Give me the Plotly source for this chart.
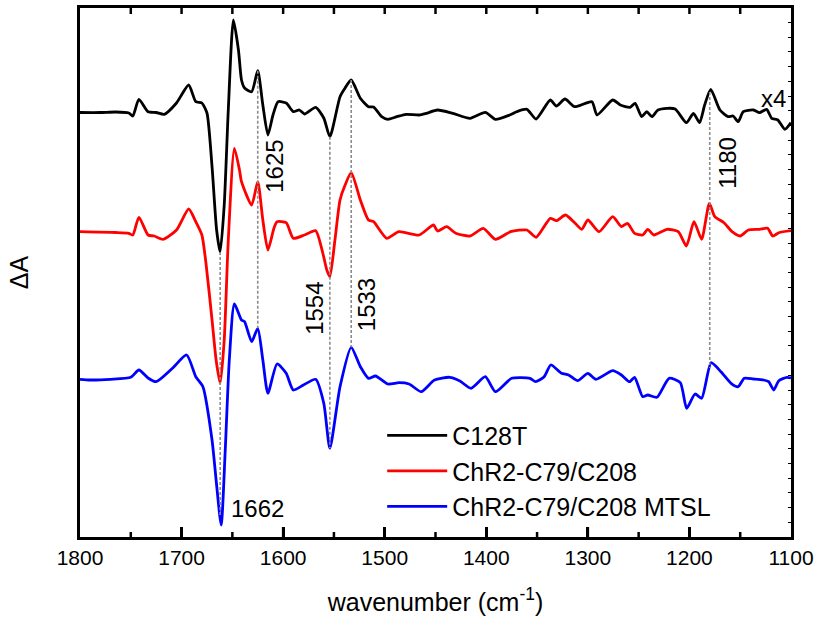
import numpy as np
import plotly.graph_objects as go

# ---------------- data (arbitrary ΔA units, relative to each baseline) ----------------
wn_black = [1800, 1780, 1765, 1752, 1748, 1742, 1733, 1725, 1717, 1705, 1693, 1686, 1680, 1675,
            1670, 1665.5, 1662, 1658, 1654, 1649, 1644, 1641, 1638, 1631, 1625, 1620, 1615, 1610,
            1605, 1597, 1590, 1584, 1579, 1568, 1560, 1554, 1544, 1539, 1533, 1524, 1516, 1511,
            1503, 1497, 1488, 1479, 1466, 1459, 1448, 1433, 1416, 1401, 1391, 1377, 1370, 1360,
            1351, 1337, 1331, 1322.5, 1313, 1296, 1291, 1275.5, 1268, 1258.5, 1253.5, 1247, 1242,
            1237, 1231, 1222, 1214, 1203, 1196, 1190, 1185, 1179, 1170, 1162, 1157, 1152, 1147,
            1137, 1131, 1124, 1119, 1113, 1106, 1100]
py_black = [112.5, 112.5, 112, 113, 116, 99.3, 111.7, 112.5, 114.3, 103, 85, 101.7, 103, 113,
            166.7, 230, 252, 205, 110, 20, 50, 80, 88, 91.7, 70.7, 105, 135, 115,
            101.7, 103, 111.7, 110, 114, 107.3, 118, 136.7, 96.7, 88, 80, 98.3, 106.7, 107,
            116.7, 119.3, 116.7, 114.3, 115, 113.3, 110, 113.3, 118.3, 112.3, 119.3, 115, 111.7, 109.3,
            119, 100, 106, 99, 106.7, 101.7, 115, 100, 105, 107.3, 103.3, 116.7, 111.7,
            116.7, 110, 108.3, 109, 122.7, 113.3, 122.7, 105, 89.3, 110, 116.7, 116, 121.7, 111.7,
            110, 112.7, 109.3, 118.3, 120, 129.3, 122.7]

wn_red = [1800, 1765, 1752, 1748, 1742, 1733, 1727, 1718, 1705, 1693, 1686, 1680, 1676, 1670,
          1666, 1662, 1658, 1654, 1648, 1643, 1641, 1631, 1625, 1620, 1615, 1609, 1606, 1597,
          1590, 1579, 1568, 1561, 1557, 1554, 1549, 1544, 1539, 1533, 1524, 1516, 1511, 1498,
          1486, 1466, 1452, 1448, 1439, 1430, 1416, 1403, 1391, 1376, 1360, 1351, 1337, 1331,
          1322, 1313, 1306, 1300, 1289, 1275.5, 1267, 1261, 1254, 1246, 1241, 1235, 1222, 1211,
          1203, 1195.5, 1188, 1180.4, 1175, 1166, 1158, 1150, 1142, 1131, 1123, 1118, 1112, 1100]
py_red = [231.7, 232.5, 233.3, 235, 217.3, 235, 236, 239.3, 230, 209, 221.7, 235, 263, 320,
          360, 383.3, 340, 240, 148.3, 170, 181.7, 205, 181.7, 220, 250, 228, 221.7, 222.7,
          238.3, 235, 230.7, 253, 270, 276.7, 240, 200, 185, 172.7, 200, 220, 221.7, 238.3,
          231.7, 235, 225, 231, 226.7, 233.3, 236, 228.3, 239.3, 231.7, 230, 237.3, 218.3, 220.7,
          215, 222.7, 229.3, 220, 231.7, 216.7, 226.7, 223.3, 233.3, 235, 229.3, 235, 229.3, 231.7,
          246, 221.7, 239.3, 203.3, 216.7, 222.7, 231.7, 236, 230, 229.3, 228.3, 236, 232.7, 230.7]

wn_blue = [1800, 1790, 1770, 1750, 1742, 1733, 1725, 1709, 1695, 1686, 1679, 1670, 1666, 1661,
           1657, 1653, 1648, 1641, 1638, 1631, 1625, 1620, 1615, 1606, 1597, 1590, 1580, 1568,
           1560, 1554, 1544, 1533, 1524, 1516, 1509, 1497, 1486, 1476, 1464, 1451, 1436, 1426,
           1415, 1401, 1391, 1375, 1357, 1351.5, 1343, 1336.5, 1326, 1319, 1310, 1300, 1292,
           1275.5, 1267, 1259, 1254, 1246, 1241, 1232, 1220, 1209, 1202.7, 1194.5, 1188, 1178.6,
           1169, 1159, 1152, 1146, 1137, 1127, 1122, 1117, 1112, 1104, 1100]
py_blue = [379.3, 380, 379.3, 377.3, 370, 378, 381.7, 368.3, 355, 376.7, 386.7, 440, 480, 525,
           450, 360, 304, 320, 321.7, 341.7, 328.3, 360, 393.3, 364, 373.3, 390, 385, 379.3,
           403.3, 448.3, 386.7, 347.3, 366.7, 378.3, 376, 384, 382.7, 384, 391.7, 380, 377.3, 381,
           388.3, 376.7, 391.7, 378.3, 378.3, 381.7, 376.7, 365, 373.3, 375, 380.7, 373.3, 379.3,
           370.7, 375, 381.7, 377.3, 396.7, 395, 397.3, 378.3, 382.7, 408.3, 394, 398.3, 362.7,
           371.7, 383.3, 386.7, 378.3, 379, 380, 381.7, 390, 380.7, 377.3, 378]

names = ["C128T", "ChR2-C79/C208", "ChR2-C79/C208 MTSL"]
colors = ["#000000", "#ff0000", "#0000ff"]
baselines_px = [112, 232, 379]          # baseline of each spectrum
peak_marks = [1662, 1625, 1554, 1533, 1180]
x_ticks_major = [1800, 1700, 1600, 1500, 1400, 1300, 1200, 1100]
x_ticks_minor = [1750, 1650, 1550, 1450, 1350, 1250, 1150]

# ---------------- build ----------------
PLOT_BOTTOM = 537
PLOT_H = 529
series = []
for wn, py, base in zip([wn_black, wn_red, wn_blue], [py_black, py_red, py_blue], baselines_px):
    delta = base - np.array(py)                       # ΔA (arb. units)
    offset = PLOT_BOTTOM - base                       # vertical stacking offset
    series.append((np.array(wn, float), delta + offset))

fig = go.Figure()

# dashed guide lines, from top spectrum to bottom spectrum at each band
for p in peak_marks:
    ytop = np.interp(p, series[0][0][::-1], series[0][1][::-1])
    ybot = np.interp(p, series[2][0][::-1], series[2][1][::-1])
    fig.add_trace(go.Scatter(x=[p, p], y=[ytop, ybot], mode="lines", showlegend=False,
                             hoverinfo="skip", yaxis="y2",
                             line=dict(color="#8c8c8c", width=1.6, dash="3px,2px")))

for (x, y), name, col in zip(series, names, colors):
    fig.add_trace(go.Scatter(x=x, y=y, mode="lines", name=name,
                             line=dict(color=col, width=2.8, shape="spline", smoothing=0.6)))

FONT = "Liberation Sans, Arial, Helvetica, sans-serif"

label_specs = [  # (text, x, y, textangle, xshift)
    ("1625", 1625, 371, -90, 16),
    ("1180", 1180, 374, -90, 17),
    ("1554", 1554, 229, -90, -16),
    ("1533", 1533, 232, -90, 15),
    ("1662", 1662, 29, 0, 37),
    ("x4", 1117, 439, 0, 0),
]
for t, x, y, ang, xs in label_specs:
    fig.add_annotation(x=x, y=y, text=t, showarrow=False, textangle=ang, xshift=xs,
                       font=dict(family=FONT, size=24, color="black"))

# inside tick marks on bottom (major/minor) and top (every 50) of the frame
tick_style = dict(type="line", xref="x", yref="paper", layer="above",
                  line=dict(color="black", width=2.5))
for v in x_ticks_major:
    if v in (1800, 1100):
        continue
    fig.add_shape(x0=v, x1=v, y0=0, y1=10 / PLOT_H, **tick_style)
for v in x_ticks_minor:
    fig.add_shape(x0=v, x1=v, y0=0, y1=5 / PLOT_H, **tick_style)
for v in x_ticks_major + x_ticks_minor:
    if v in (1800, 1100):
        continue
    fig.add_shape(x0=v, x1=v, y0=1, y1=1 - 6 / PLOT_H, **tick_style)

fig.update_layout(
    width=814, height=619,
    margin=dict(l=80, r=23, t=8, b=82),
    paper_bgcolor="white", plot_bgcolor="white",
    font=dict(family=FONT, color="black"),
    showlegend=True,
    legend=dict(x=0.425, y=0.235, xanchor="left", yanchor="top",
                bgcolor="rgba(0,0,0,0)", font=dict(family=FONT, size=25, color="black"),
                itemwidth=60, tracegroupgap=0),
    xaxis=dict(range=[1800, 1100], autorange=False, showgrid=False, zeroline=False,
               automargin=False, showline=True, linecolor="black", linewidth=2.5, mirror=True,
               ticks="inside", ticklen=10, tickwidth=2.5, tickcolor="black",
               tickmode="array", tickvals=x_ticks_major,
               tickfont=dict(family=FONT, size=21, color="black"),
               title=dict(text="wavenumber (cm<sup>-1</sup>)", standoff=26,
                          font=dict(family=FONT, size=25, color="black"))),
    yaxis=dict(range=[0, PLOT_H], showgrid=False, zeroline=False, showline=True, automargin=False,
               linecolor="black", linewidth=2.5, mirror=True, ticks="", showticklabels=False,
               title=dict(text="ΔA", standoff=42, font=dict(family=FONT, size=25, color="black"))),
    yaxis2=dict(range=[0, PLOT_H], overlaying="y", side="right",
                showgrid=False, zeroline=False,
                automargin=False, showline=False, ticks="inside", ticklen=3, tickwidth=1,
                tickcolor="black", dtick=14.7, showticklabels=False),
)

fig.write_html("out.html")
